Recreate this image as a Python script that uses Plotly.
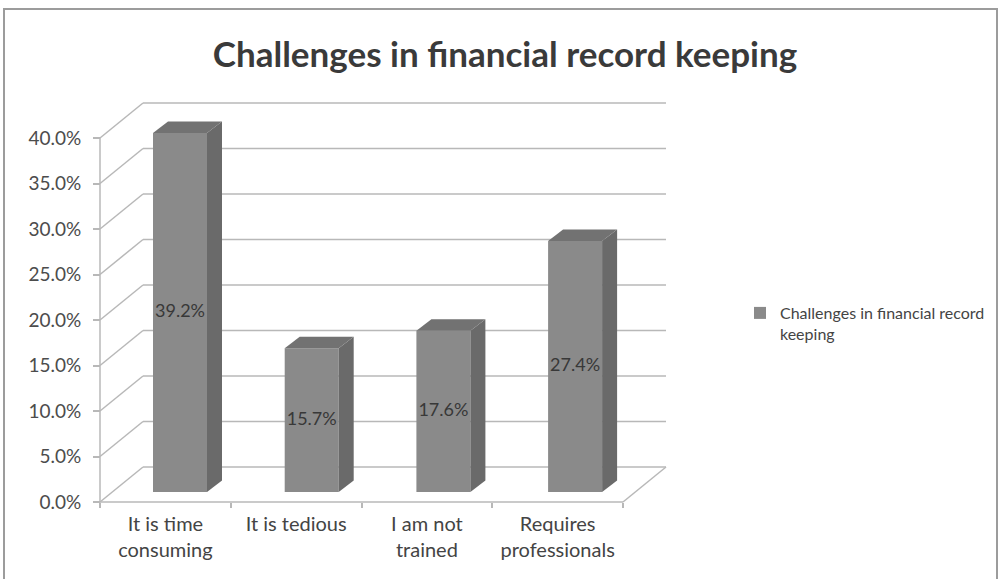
import plotly.graph_objects as go

# ---- data -------------------------------------------------------------
categories = ["It is time<br>consuming", "It is tedious", "I am not<br>trained", "Requires<br>professionals"]
shares = [39.2, 15.7, 17.6, 27.4]          # percent of respondents
y_ticks = [0, 5, 10, 15, 20, 25, 30, 35, 40]
y_tick_labels = [f"{v:.1f}%" for v in y_ticks]
series_name = "Challenges in financial record<br>keeping"
title_text = "Challenges in financial record keeping"

# ---- page geometry (pixels) ------------------------------------------
W, H = 1001, 579
FONT = "Lato"

def fx(p):
    return p / W

def fy(p):
    return 1 - p / H

# plotting window shared by the front plane and the bar plane
DOM_L, DOM_R, DOM_T, DOM_B = 86, 682, 92, 514

# front plane: category band edges start at AX_X0, 0 % sits at AX_Y0
AX_X0, AX_Y0 = 100, 502
BAND = 130.75
PX_PER_PCT = 9.1

# bar plane (bars stand a little inside the box)
BAR_C0, BAR_STEP = 180, 131.7
BAR_Y0, BAR_PX_PER_PCT = 492, 9.16
BAR_W_PX = 54

# oblique depth offsets
WALL_DX, WALL_DY = 43, 35
BAR_DX, BAR_DY = 15, 11.5

GRID = "#b8b8b8"
FRONT = "#8a8a8a"
SIDE = "#6a6a6a"
TOP = "#727272"
TEXT = "#444444"


def x_front(px):
    return -0.5 + (px - AX_X0) / BAND


def y_front(py):
    return (AX_Y0 - py) / PX_PER_PCT


def x_bar(px):
    return (px - BAR_C0) / BAR_STEP


def y_bar(py):
    return (BAR_Y0 - py) / BAR_PX_PER_PCT


idx = list(range(len(categories)))
n = len(categories)

fig = go.Figure()

fig.add_trace(go.Bar(
    x=idx, y=shares, xaxis="x2", yaxis="y2",
    width=BAR_W_PX / BAR_STEP,
    marker=dict(color=FRONT, line=dict(width=0)),
    name=series_name, showlegend=True, hoverinfo="skip",
))

fig.add_trace(go.Scatter(
    x=idx, y=[v / 2 for v in shares], xaxis="x2", yaxis="y2",
    mode="text", text=[f"{v:.1f}%" for v in shares],
    textfont=dict(family=FONT, size=18, color="#383838"),
    showlegend=False, hoverinfo="skip",
))

shapes = []

# walls and floor of the 3-D box, in front-plane data units
wdx = WALL_DX / BAND
wdy = WALL_DY / PX_PER_PCT
left, right = -0.5, n - 0.5
line = dict(color=GRID, width=1.5)
for v in y_ticks:
    shapes.append(dict(type="line", xref="x", yref="y", layer="below",
                       x0=left, y0=v, x1=left + wdx, y1=v + wdy, line=line))
    shapes.append(dict(type="line", xref="x", yref="y", layer="below",
                       x0=left + wdx, y0=v + wdy, x1=right + wdx, y1=v + wdy, line=line))
# front edge of floor, right edge of floor, vertical value axis
shapes.append(dict(type="line", xref="x", yref="y", layer="below",
                   x0=left, y0=0, x1=right, y1=0, line=line))
shapes.append(dict(type="line", xref="x", yref="y", layer="below",
                   x0=right, y0=0, x1=right + wdx, y1=wdy, line=line))
shapes.append(dict(type="line", xref="x", yref="y", layer="below",
                   x0=left, y0=0, x1=left, y1=y_ticks[-1], line=line))

# side and top faces of each bar, in bar-plane data units
bdx = BAR_DX / BAR_STEP
bdy = BAR_DY / BAR_PX_PER_PCT
hw = BAR_W_PX / BAR_STEP / 2
for i, v in zip(idx, shares):
    xl, xr = i - hw, i + hw
    side = f"M{xr},0 L{xr + bdx},{bdy} L{xr + bdx},{v + bdy} L{xr},{v} Z"
    top = f"M{xl},{v} L{xl + bdx},{v + bdy} L{xr + bdx},{v + bdy} L{xr},{v} Z"
    shapes.append(dict(type="path", xref="x2", yref="y2", path=side,
                       fillcolor=SIDE, line=dict(width=0)))
    shapes.append(dict(type="path", xref="x2", yref="y2", path=top,
                       fillcolor=TOP, line=dict(width=0)))

# chart frame
shapes.append(dict(type="rect", xref="paper", yref="paper",
                   x0=fx(4), y0=fy(600), x1=fx(997), y1=fy(9),
                   line=dict(color="#9c9c9c", width=2), layer="below"))

axis_common = dict(showgrid=False, zeroline=False, showline=False, fixedrange=True)

fig.update_layout(
    width=W, height=H,
    margin=dict(l=0, r=0, t=0, b=0),
    paper_bgcolor="white", plot_bgcolor="rgba(0,0,0,0)",
    font=dict(family=FONT, color=TEXT),
    title=dict(text=f"<b>{title_text}</b>", x=fx(505), y=fy(55),
               xanchor="center", yanchor="middle",
               font=dict(family=FONT, size=35, color="#3a3a3a")),
    xaxis=dict(**axis_common, domain=[fx(DOM_L), fx(DOM_R)],
               range=[x_front(DOM_L), x_front(DOM_R)],
               anchor="free", position=fy(AX_Y0),
               tickmode="array", tickvals=idx, ticktext=categories,
               ticks="", ticklabelstandoff=8,
               tickfont=dict(family=FONT, size=20, color=TEXT),
               minor=dict(ticks="outside", tick0=-0.5, dtick=1, ticklen=5,
                          tickcolor=GRID, tickwidth=1.5)),
    yaxis=dict(**axis_common, domain=[fy(DOM_B), fy(DOM_T)],
               range=[y_front(DOM_B), y_front(DOM_T)],
               anchor="free", position=fx(AX_X0),
               tickmode="array", tickvals=y_ticks, ticktext=y_tick_labels,
               ticks="outside", ticklen=7, tickcolor=GRID, tickwidth=1.5,
               ticklabelstandoff=8,
               tickfont=dict(family=FONT, size=19, color="#4c4c4c")),
    xaxis2=dict(**axis_common, domain=[fx(DOM_L), fx(DOM_R)],
                range=[x_bar(DOM_L), x_bar(DOM_R)], anchor="y2",
                showticklabels=False, ticks=""),
    yaxis2=dict(**axis_common, domain=[fy(DOM_B), fy(DOM_T)],
                range=[y_bar(DOM_B), y_bar(DOM_T)], anchor="x2",
                showticklabels=False, ticks=""),
    legend=dict(x=fx(740), y=fy(296), xanchor="left", yanchor="top",
                valign="top", bgcolor="rgba(0,0,0,0)",
                font=dict(family=FONT, size=16, color=TEXT)),
    shapes=shapes,
    showlegend=True,
)

fig.write_html("out.html")
